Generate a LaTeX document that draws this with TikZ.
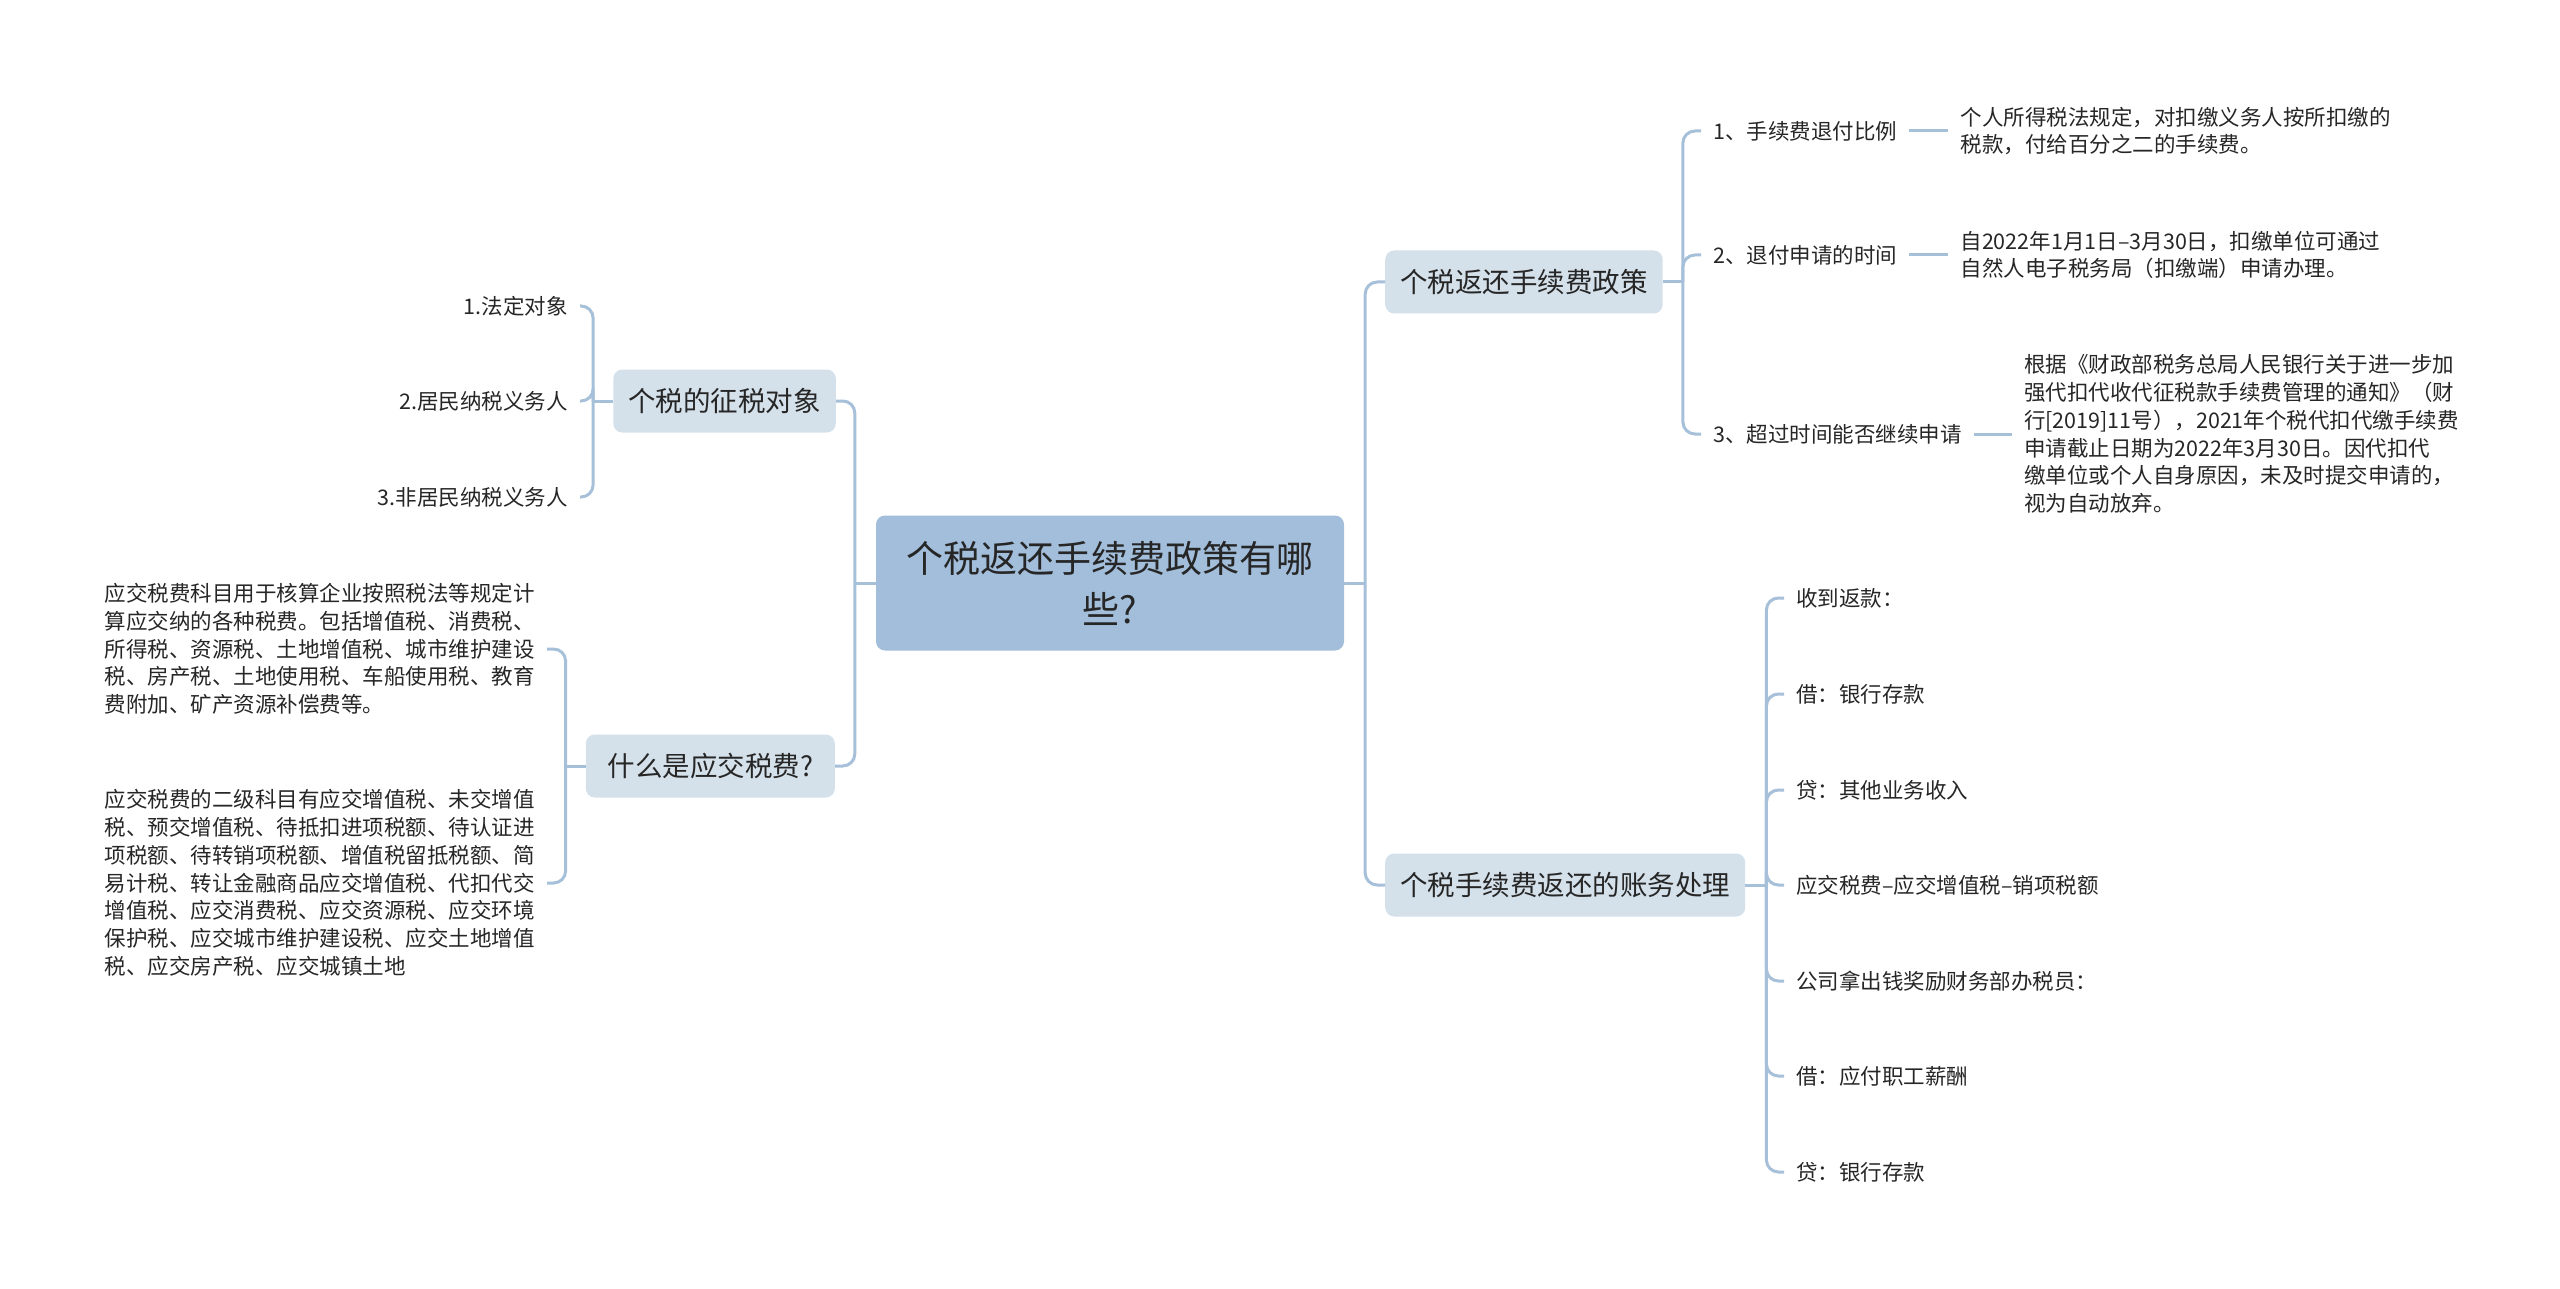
\documentclass[tikz,border=0pt]{standalone}
\usepackage{fontspec}
\setmainfont{Noto Sans CJK SC}
\usepackage{tikz}
\usetikzlibrary{positioning}
\definecolor{linkblue}{RGB}{167,192,218}
\definecolor{rootfill}{RGB}{162,190,219}
\definecolor{topicfill}{RGB}{213,225,234}
\definecolor{inkgray}{RGB}{38,38,38}
\tikzset{
  rootbox/.style = {fill=rootfill, rounded corners=9pt, align=center, minimum width=468pt,
                    minimum height=135pt, text=inkgray, font=\fontsize{37}{51}\selectfont},
  topic/.style   = {fill=topicfill, rounded corners=9pt, inner xsep=15pt, minimum height=63pt,
                    text=inkgray, font=\fontsize{27.5}{33}\selectfont},
  leaf/.style    = {inner xsep=12pt, inner ysep=2pt, align=left, text=inkgray,
                    font=\fontsize{21.5}{27.8}\selectfont},
  link/.style    = {draw=linkblue, line width=3pt, rounded corners=12pt},
}
\begin{document}
\begin{tikzpicture}[x=1pt, y=-1pt]
  \useasboundingbox (0,0) rectangle (2560,1289);
  \node[rootbox] (root) at (1110,583) {个税返还手续费政策有哪\\些?};
  \node[topic, anchor=west] (pol)  at (1385,282) {个税返还手续费政策};
  \node[topic, anchor=west] (acc)  at (1385,885) {个税手续费返还的账务处理};
  \node[topic, anchor=east] (obj)  at (836,401)  {个税的征税对象};
  \node[topic, anchor=east, minimum width=249pt] (what) at (835,766) {什么是应交税费?};

  \node[leaf, anchor=west] (pol1) at (1701,131) {1、手续费退付比例};
  \node[leaf, anchor=west] (pol2) at (1701,255) {2、退付申请的时间};
  \node[leaf, anchor=west] (pol3) at (1701,434) {3、超过时间能否继续申请};
  \node[leaf, right=39pt of pol1] (det1) {个人所得税法规定，对扣缴义务人按所扣缴的\\税款，付给百分之二的手续费。};
  \node[leaf, right=39pt of pol2] (det2) {自2022年1月1日–3月30日，扣缴单位可通过\\自然人电子税务局（扣缴端）申请办理。};
  \node[leaf, right=38pt of pol3] (det3) {根据《财政部税务总局人民银行关于进一步加\\强代扣代收代征税款手续费管理的通知》（财\\行[2019]11号），2021年个税代扣代缴手续费\\申请截止日期为2022年3月30日。因代扣代\\缴单位或个人自身原因，未及时提交申请的，\\视为自动放弃。};

  \node[leaf, anchor=west] (acc1) at (1784,598)  {收到返款：};
  \node[leaf, anchor=west] (acc2) at (1784,694)  {借：银行存款};
  \node[leaf, anchor=west] (acc3) at (1784,790)  {贷：其他业务收入};
  \node[leaf, anchor=west] (acc4) at (1784,885)  {应交税费–应交增值税–销项税额};
  \node[leaf, anchor=west] (acc5) at (1784,981)  {公司拿出钱奖励财务部办税员：};
  \node[leaf, anchor=west] (acc6) at (1784,1076) {借：应付职工薪酬};
  \node[leaf, anchor=west] (acc7) at (1784,1172) {贷：银行存款};

  \node[leaf, anchor=east] (obj1) at (580,306) {1.法定对象};
  \node[leaf, anchor=east] (obj2) at (580,401) {2.居民纳税义务人};
  \node[leaf, anchor=east] (obj3) at (580,497) {3.非居民纳税义务人};

  \node[leaf, anchor=east] (what1) at (547,649) {应交税费科目用于核算企业按照税法等规定计\\算应交纳的各种税费。包括增值税、消费税、\\所得税、资源税、土地增值税、城市维护建设\\税、房产税、土地使用税、车船使用税、教育\\费附加、矿产资源补偿费等。};
  \node[leaf, anchor=east] (what2) at (547,883) {应交税费的二级科目有应交增值税、未交增值\\税、预交增值税、待抵扣进项税额、待认证进\\项税额、待转销项税额、增值税留抵税额、简\\易计税、转让金融商品应交增值税、代扣代交\\增值税、应交消费税、应交资源税、应交环境\\保护税、应交城市维护建设税、应交土地增值\\税、应交房产税、应交城镇土地};

  \draw[link] (root.east) -- ++(21,0) coordinate (rootR);
  \draw[link] (rootR) |- (pol.west); \draw[link] (rootR) |- (acc.west);
  \draw[link] (root.west) -- ++(-21,0) coordinate (rootL);
  \draw[link] (rootL) |- (obj.east); \draw[link] (rootL) |- (what.east);

  \draw[link] (pol.east) -- ++(20,0) coordinate (polT);
  \draw[link] (polT) |- (pol1.west); \draw[link] (polT) |- (pol2.west); \draw[link] (polT) |- (pol3.west);
  \draw[link] (pol1.east) -- (det1.west); \draw[link] (pol2.east) -- (det2.west); \draw[link] (pol3.east) -- (det3.west);

  \draw[link] (acc.east) -- ++(21,0) coordinate (accT);
  \draw[link] (accT) |- (acc1.west); \draw[link] (accT) |- (acc2.west); \draw[link] (accT) |- (acc3.west);
  \draw[link] (accT) |- (acc4.west); \draw[link] (accT) |- (acc5.west); \draw[link] (accT) |- (acc6.west);
  \draw[link] (accT) |- (acc7.west);

  \draw[link] (obj.west) -- ++(-20,0) coordinate (objT);
  \draw[link] (objT) |- (obj1.east); \draw[link] (objT) |- (obj2.east); \draw[link] (objT) |- (obj3.east);

  \draw[link] (what.west) -- ++(-20,0) coordinate (whatT);
  \draw[link] (whatT) |- (what1.east); \draw[link] (whatT) |- (what2.east);
\end{tikzpicture}
\end{document}
